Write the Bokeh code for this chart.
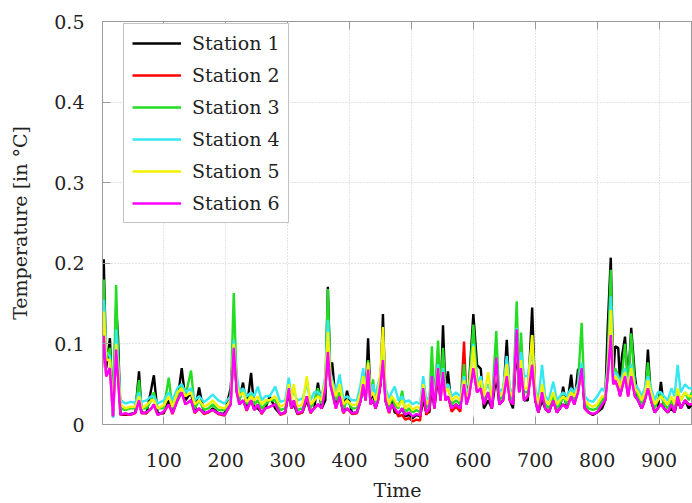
from bokeh.plotting import figure
from bokeh.models import Legend, LegendItem, FixedTicker, LinearAxis, Range1d
from bokeh.embed import file_html
from bokeh.resources import INLINE

time = [0, 3, 7, 13, 18, 23, 26, 30, 38, 46,
        54, 60, 64, 72, 80, 84, 90, 100, 108, 114,
        122, 129, 135, 144, 150, 157, 165, 172, 179, 188,
        198, 208, 213, 218, 222, 228, 234, 241, 246, 252,
        258, 264, 271, 280, 288, 296, 302, 306, 310, 316,
        324, 331, 337, 343, 349, 355, 361, 365, 369, 372,
        378, 384, 390, 396, 404, 412, 418, 422, 426, 430,
        434, 438, 442, 446, 450, 454, 458, 464, 468, 473,
        479, 485, 490, 496, 502, 508, 514, 519, 524, 529,
        533, 537, 543, 547, 551, 555, 559, 565, 572, 579,
        585, 589, 593, 600, 606, 612, 617, 624, 630, 637,
        642, 648, 654, 659, 664, 670, 674, 677, 682, 688,
        695, 700, 705, 711, 716, 722, 729, 735, 740, 745,
        751, 758, 763, 769, 775, 780, 786, 793, 800, 808,
        813, 817, 822, 826, 829, 834, 837, 840, 845, 850,
        855, 861, 866, 872, 877, 882, 887, 893, 898, 903,
        908, 914, 920, 925, 930, 935, 942, 948, 953]

station1 = [.09, .205, .07, .107, .01, .145, .11, .012, .012, .013,
            .015, .066, .015, .014, .045, .061, .014, .014, .03, .015,
            .03, .07, .03, .04, .015, .046, .014, .015, .02, .014,
            .013, .045, .10, .04, .03, .052, .02, .064, .02, .02,
            .015, .02, .035, .02, .013, .015, .04, .02, .025, .013,
            .015, .03, .015, .02, .052, .02, .03, .171, .06, .077,
            .025, .035, .015, .042, .014, .015, .03, .05, .03, .107,
            .03, .04, .02, .03, .05, .137, .03, .015, .03, .015,
            .013, .02, .01, .012, .008, .012, .01, .03, .015, .015,
            .05, .02, .06, .03, .123, .04, .066, .02, .025, .02,
            .07, .03, .05, .137, .074, .069, .02, .03, .02, .06,
            .025, .03, .105, .03, .02, .10, .04, .08, .03, .03,
            .145, .03, .015, .03, .02, .015, .03, .015, .02, .047,
            .02, .062, .025, .068, .07, .02, .015, .012, .015, .02,
            .03, .12, .207, .06, .097, .095, .05, .084, .109, .05,
            .12, .06, .03, .02, .03, .093, .03, .015, .02, .053,
            .02, .015, .02, .015, .03, .02, .03, .02, .025]

station2 = [.07, .11, .06, .07, .01, .093, .06, .012, .013, .012,
            .014, .03, .014, .014, .02, .025, .012, .015, .025, .013,
            .03, .04, .025, .03, .014, .02, .013, .015, .018, .013,
            .011, .025, .095, .04, .025, .03, .017, .03, .018, .025,
            .013, .02, .022, .025, .012, .014, .045, .02, .03, .013,
            .015, .035, .014, .02, .025, .02, .045, .09, .05, .04,
            .02, .035, .014, .02, .013, .014, .03, .05, .03, .068,
            .025, .03, .02, .03, .05, .08, .03, .014, .025, .02,
            .01, .012, .006, .008, .004, .006, .005, .045, .012, .018,
            .06, .02, .07, .03, .065, .03, .035, .016, .022, .016,
            .103, .025, .035, .07, .04, .045, .025, .04, .02, .083,
            .025, .03, .06, .03, .025, .118, .04, .07, .03, .035,
            .074, .03, .015, .04, .02, .015, .03, .015, .02, .025,
            .02, .035, .025, .04, .07, .02, .015, .013, .015, .025,
            .03, .06, .111, .05, .055, .045, .035, .045, .06, .035,
            .06, .035, .03, .02, .03, .045, .03, .015, .02, .025,
            .02, .015, .025, .015, .035, .02, .03, .025, .025]

station3 = [.10, .18, .08, .095, .012, .173, .09, .02, .018, .02,
            .02, .055, .02, .02, .03, .04, .02, .02, .058, .02,
            .035, .05, .035, .067, .02, .03, .018, .02, .025, .018,
            .018, .03, .163, .045, .03, .045, .025, .04, .025, .03,
            .02, .025, .03, .03, .018, .02, .045, .025, .03, .018,
            .02, .035, .02, .03, .045, .025, .05, .168, .06, .05,
            .03, .04, .02, .03, .02, .02, .035, .055, .035, .08,
            .035, .056, .025, .035, .06, .10, .035, .02, .035, .025,
            .02, .042, .015, .02, .015, .018, .015, .04, .02, .025,
            .097, .025, .104, .04, .095, .045, .05, .025, .03, .025,
            .075, .035, .045, .124, .055, .05, .03, .04, .025, .116,
            .03, .035, .08, .035, .03, .153, .05, .114, .04, .04,
            .11, .035, .02, .04, .025, .02, .035, .02, .025, .035,
            .025, .045, .03, .05, .126, .025, .02, .018, .02, .03,
            .035, .08, .192, .06, .07, .06, .045, .06, .10, .05,
            .113, .05, .035, .025, .035, .077, .035, .02, .03, .04,
            .025, .02, .03, .02, .04, .03, .04, .03, .04]

station4 = [.11, .155, .09, .085, .008, .118, .08, .03, .026, .028,
            .027, .04, .028, .03, .035, .035, .026, .03, .04, .03,
            .045, .05, .04, .045, .03, .035, .028, .032, .037, .03,
            .026, .035, .105, .06, .04, .045, .035, .04, .035, .047,
            .03, .035, .035, .047, .028, .03, .058, .035, .04, .03,
            .032, .05, .03, .04, .04, .035, .06, .13, .065, .055,
            .04, .062, .032, .035, .03, .03, .05, .07, .04, .075,
            .04, .05, .035, .05, .06, .11, .045, .032, .04, .047,
            .03, .035, .028, .03, .025, .028, .025, .06, .03, .035,
            .06, .035, .075, .04, .07, .045, .05, .035, .04, .035,
            .06, .04, .045, .10, .05, .06, .04, .05, .035, .08,
            .04, .045, .085, .045, .04, .12, .05, .09, .06, .06,
            .10, .045, .03, .074, .035, .03, .053, .03, .035, .04,
            .035, .045, .04, .05, .077, .035, .03, .028, .035, .045,
            .04, .07, .159, .06, .065, .06, .05, .06, .07, .05,
            .075, .05, .045, .035, .045, .06, .045, .03, .04, .04,
            .035, .03, .045, .035, .074, .04, .05, .045, .045]

station5 = [.10, .14, .08, .08, .012, .10, .07, .025, .02, .022,
            .022, .035, .02, .024, .03, .03, .02, .024, .035, .022,
            .04, .045, .035, .04, .025, .03, .022, .025, .03, .022,
            .02, .03, .10, .05, .035, .04, .028, .035, .03, .035,
            .025, .03, .03, .035, .022, .025, .05, .03, .05, .022,
            .025, .06, .025, .03, .035, .03, .055, .115, .06, .05,
            .035, .05, .025, .03, .024, .025, .04, .06, .035, .077,
            .035, .04, .03, .04, .065, .121, .04, .025, .035, .03,
            .022, .03, .02, .025, .018, .022, .02, .05, .025, .03,
            .055, .03, .07, .035, .065, .04, .045, .03, .035, .03,
            .055, .035, .04, .097, .045, .055, .035, .065, .03, .07,
            .035, .04, .075, .04, .035, .11, .045, .08, .045, .045,
            .111, .04, .025, .05, .03, .025, .04, .025, .03, .035,
            .03, .04, .035, .045, .065, .03, .025, .022, .025, .035,
            .035, .065, .142, .055, .06, .055, .045, .055, .065, .045,
            .07, .045, .04, .03, .04, .055, .04, .025, .03, .035,
            .03, .025, .035, .025, .045, .03, .04, .035, .035]

station6 = [.07, .11, .06, .07, .01, .093, .06, .012, .014, .012,
            .015, .03, .014, .015, .02, .025, .012, .016, .025, .014,
            .03, .04, .025, .03, .015, .02, .014, .016, .018, .014,
            .012, .025, .095, .04, .025, .03, .018, .03, .018, .025,
            .014, .02, .022, .025, .013, .015, .045, .02, .03, .014,
            .016, .035, .015, .02, .025, .02, .045, .09, .05, .04,
            .02, .035, .015, .02, .014, .015, .03, .05, .03, .068,
            .025, .03, .02, .03, .05, .08, .03, .015, .025, .02,
            .014, .02, .012, .015, .01, .013, .011, .045, .015, .02,
            .06, .02, .07, .03, .065, .03, .035, .02, .025, .02,
            .05, .025, .035, .07, .04, .045, .025, .04, .02, .083,
            .025, .03, .06, .03, .025, .118, .04, .07, .03, .035,
            .074, .03, .015, .04, .02, .015, .03, .015, .02, .025,
            .02, .035, .025, .04, .07, .02, .015, .013, .015, .025,
            .03, .06, .111, .05, .055, .045, .035, .045, .06, .035,
            .06, .035, .03, .02, .03, .045, .03, .015, .02, .025,
            .02, .015, .025, .015, .035, .02, .03, .025, .025]

names = ["Station 1", "Station 2", "Station 3", "Station 4", "Station 5", "Station 6"]
series = [station1, station2, station3, station4, station5, station6]
colors = ["#000000", "#ff0000", "#22dd22", "#33e8f0", "#f2f200", "#ff00ff"]

x_ticks = [100, 200, 300, 400, 500, 600, 700, 800, 900]
y_ticks = [0, 0.1, 0.2, 0.3, 0.4, 0.5]

FONT = "DejaVu Serif"
GRAY = "#9a9a9a"

p = figure(width=692, height=503, output_backend="svg", toolbar_location=None,
           x_range=Range1d(1, 954), y_range=Range1d(0, 0.5),
           min_border_left=102, min_border_right=0, min_border_top=21,
           min_border_bottom=78, background_fill_color="white",
           border_fill_color="white")
p.outline_line_color = GRAY

renderers = []
for s, c in zip(series, colors):
    r = p.line(time, s, line_color=c, line_width=2.4)
    renderers.append(r)

p.xaxis.ticker = FixedTicker(ticks=x_ticks)
p.yaxis.ticker = FixedTicker(ticks=y_ticks)
for ax in (p.xaxis[0], p.yaxis[0]):
    ax.major_tick_in = 8
    ax.major_tick_out = 0
    ax.minor_tick_line_color = None
    ax.axis_line_color = GRAY
    ax.major_tick_line_color = GRAY
    ax.major_label_text_font = FONT
    ax.major_label_text_font_size = "19px"
    ax.major_label_text_color = "#222222"
    ax.axis_label_text_font = FONT
    ax.axis_label_text_font_size = "19px"
    ax.axis_label_text_font_style = "normal"
    ax.axis_label_text_color = "#222222"

p.xaxis.axis_label = "Time"
p.yaxis.axis_label = "Temperature [in °C]"
p.xaxis.major_label_standoff = 28
p.xaxis.axis_label_standoff = 9
p.yaxis.major_label_standoff = 18
p.yaxis.axis_label_standoff = 20

top = LinearAxis(ticker=FixedTicker(ticks=x_ticks), major_label_text_color=None,
                 major_tick_in=8, major_tick_out=0, minor_tick_line_color=None,
                 axis_line_color=GRAY, major_tick_line_color=GRAY,
                 major_label_standoff=0)
p.add_layout(top, "above")

p.grid.grid_line_color = "#c8c8c8"
p.grid.grid_line_dash = "1 2"
p.grid.grid_line_width = 1

legend = Legend(items=[LegendItem(label=n, renderers=[r]) for n, r in zip(names, renderers)],
                location=(21, 201), margin=0, padding=8, spacing=10,
                glyph_width=49, glyph_height=20, label_height=20, label_standoff=11,
                label_text_font=FONT, label_text_font_size="19px",
                label_text_color="#222222",
                border_line_color="#888888", border_line_width=1,
                background_fill_color="white", background_fill_alpha=1.0)
p.add_layout(legend)

open("out.html", "w").write(file_html(p, INLINE))
